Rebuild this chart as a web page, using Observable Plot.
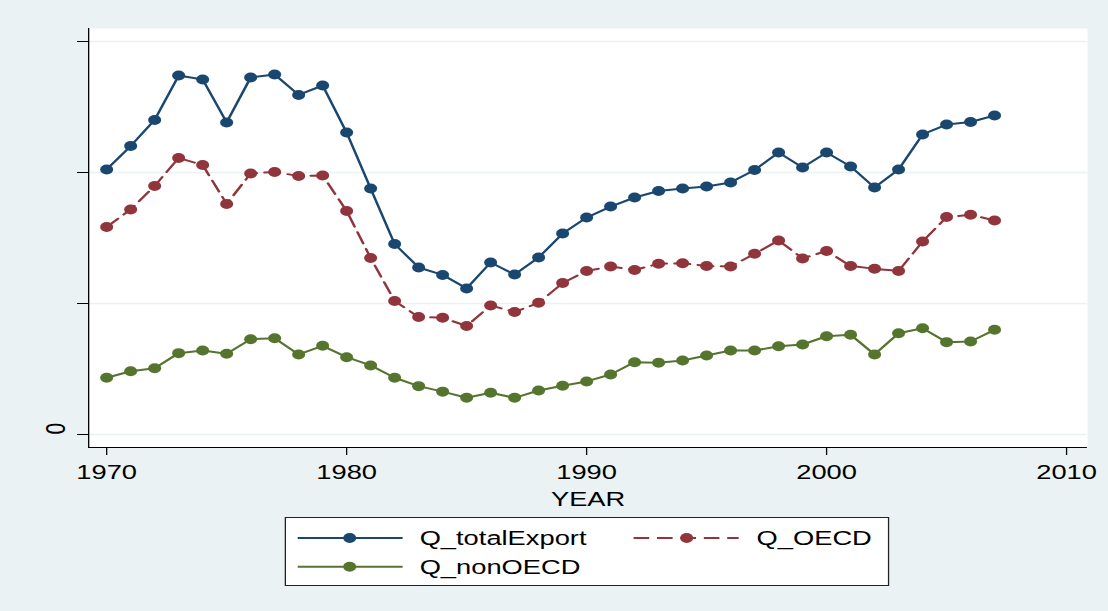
<!DOCTYPE html>
<html><head><meta charset="utf-8">
<script src="https://cdn.jsdelivr.net/npm/d3@7"></script>
<script src="https://cdn.jsdelivr.net/npm/@observablehq/plot@0.6"></script>
<style>
html,body{margin:0;padding:0;background:#eaf2f3;overflow:hidden;}
#wrap{position:relative;width:852.3px;height:611px;transform:scaleX(1.3);transform-origin:0 0;font-family:"Liberation Sans",Arial,sans-serif;}
#legend{position:absolute;left:218.5px;top:517px;width:465.3px;height:69px;box-sizing:border-box;border:1px solid #222;background:#fff;}
#legend svg{display:block;}
</style></head><body><div id="wrap"><div id="chart"></div><div id="legend"></div></div>
<script>
// ---- data ----
const years = [1970,1971,1972,1973,1974,1975,1976,1977,1978,1979,1980,1981,1982,1983,1984,1985,1986,1987,1988,1989,
  1990,1991,1992,1993,1994,1995,1996,1997,1998,1999,2000,2001,2002,2003,2004,2005,2006,2007];
const seriesNames = ["Q_totalExport","Q_OECD","Q_nonOECD"];
const qTotalExport = [2.023,2.202,2.401,2.740,2.710,2.382,2.725,2.748,2.592,2.664,2.305,1.878,1.454,1.275,1.218,1.115,1.313,1.221,1.351,1.534,
  1.656,1.740,1.809,1.859,1.878,1.893,1.924,2.019,2.153,2.038,2.153,2.046,1.885,2.023,2.290,2.366,2.385,2.435];
const qOECD = [1.584,1.718,1.897,2.111,2.057,1.760,1.992,2.004,1.973,1.977,1.706,1.347,1.019,0.897,0.891,0.828,0.985,0.935,1.005,1.156,
  1.248,1.282,1.256,1.303,1.307,1.286,1.282,1.379,1.481,1.344,1.401,1.286,1.265,1.248,1.473,1.660,1.677,1.634];
const qNonOECD = [0.433,0.483,0.506,0.621,0.641,0.616,0.727,0.735,0.611,0.677,0.590,0.527,0.433,0.369,0.327,0.280,0.318,0.280,0.336,0.372,
  0.405,0.458,0.552,0.547,0.565,0.603,0.641,0.641,0.673,0.687,0.750,0.761,0.611,0.773,0.811,0.705,0.710,0.799];
const xTicks = [1970,1980,1990,2000,2010];
const yTicks = [0,1,2,3];
const yTickLabels = ["0","","",""];
const xLabel = "YEAR";

// ---- styles ----
const colors = ["#1a476f","#90353b","#55752f"];
const dashes = [null,"12,6",null];
const allValues = [qTotalExport,qOECD,qNonOECD];

const rows = [];
seriesNames.forEach((s,i)=>years.forEach((y,j)=>rows.push({series:s, year:y, value:allValues[i][j]})));

const yDomain = [-0.0992, 3.099];
const xDomain = [1969.25, 2010.875];

const lineMarks = [];
const dotMarks = [];
seriesNames.forEach((s,i)=>{
  const d = rows.filter(r=>r.series===s);
  lineMarks.push(Plot.line(d,{x:"year",y:"value",stroke:colors[i],strokeWidth:2,strokeDasharray:dashes[i]||undefined}));
  dotMarks.push(Plot.dot(d,{x:"year",y:"value",r:5,fill:colors[i],stroke:null}));
});

const chart = Plot.plot({
  width: 852.3, height: 510,
  marginLeft: 67.7, marginRight: 16.2, marginTop: 28, marginBottom: 63,
  x: {domain: xDomain},
  y: {domain: yDomain},
  style: {background:"transparent", fontFamily:"'Liberation Sans', Arial, sans-serif", fontSize:"21px", color:"#000", overflow:"visible"},
  marks: [
    Plot.frame({fill:"#fff", stroke:null}),
    Plot.ruleY(yTicks,{stroke:"#eaf2f3", strokeWidth:1.5}),
    ...lineMarks,
    ...dotMarks,
    Plot.axisX({ticks:xTicks, tickFormat:d3.format("d"), tickSize:8, tickPadding:9, label:null, fontSize:21}),
    Plot.axisY({ticks:yTicks, tickFormat:()=>"", tickSize:8.5, label:null}),
    Plot.text(yTicks,{y:d=>d, text:(d,i)=>yTickLabels[i], frameAnchor:"left", dx:-24.6, rotate:-90, fontSize:21}),
    Plot.text([xLabel],{frameAnchor:"bottom", dy:51.5, lineAnchor:"middle", fontSize:21}),
    Plot.ruleX([xDomain[0]],{stroke:"#000"}),
    Plot.ruleY([yDomain[0]],{stroke:"#000"})
  ]
});
document.getElementById("chart").appendChild(chart);

// ---- legend ----
const lg = d3.select("#legend").append("svg").attr("width",463.3).attr("height",67);
const pos = [
  {lx0:9, lx1:89.7, mx:49, tx:102.8, y:20},
  {lx0:267.4, lx1:348.2, mx:308.2, tx:362, y:20},
  {lx0:9, lx1:89.7, mx:49, tx:102.8, y:48.7}
];
seriesNames.forEach((s,i)=>{
  const p = pos[i];
  lg.append("line").attr("x1",p.lx0).attr("x2",p.lx1).attr("y1",p.y).attr("y2",p.y)
    .attr("stroke",colors[i]).attr("stroke-width",2).attr("stroke-dasharray",dashes[i]||null);
  lg.append("circle").attr("cx",p.mx).attr("cy",p.y).attr("r",5).attr("fill",colors[i]);
  lg.append("text").attr("x",p.tx).attr("y",p.y).attr("dy","0.35em")
    .attr("font-size",21).attr("font-family","'Liberation Sans', Arial, sans-serif").attr("fill","#000").text(s);
});
</script>
</body></html>
